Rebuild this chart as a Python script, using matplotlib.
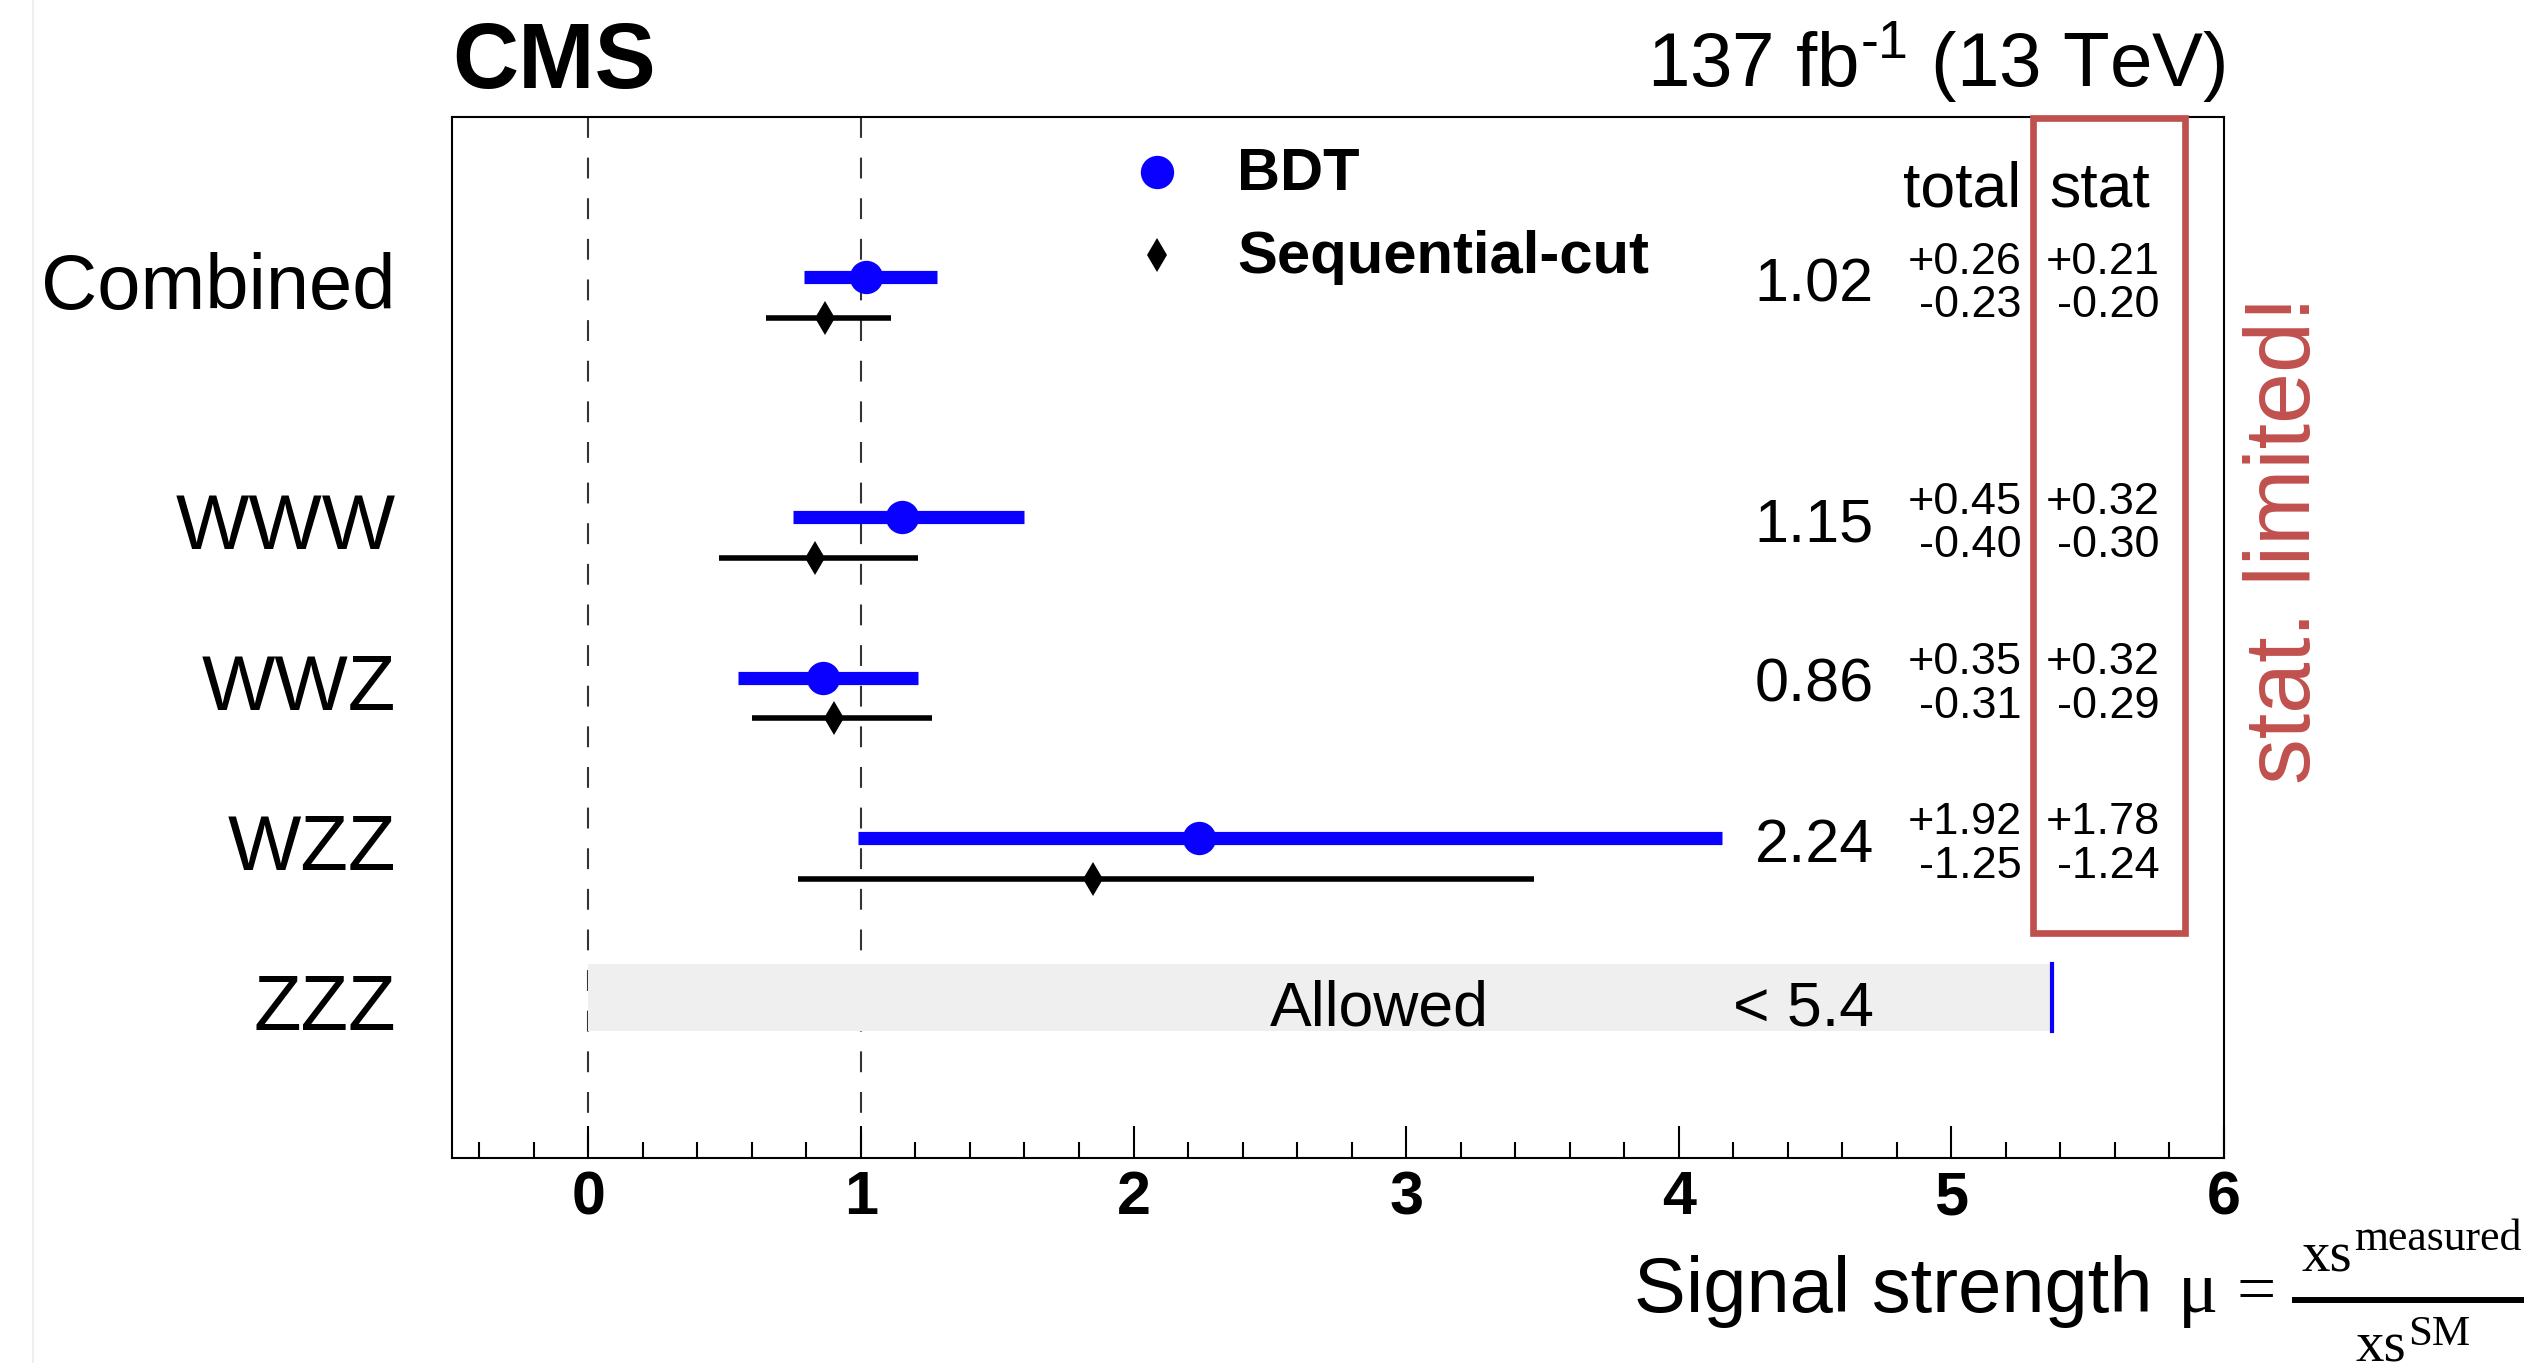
import matplotlib
matplotlib.use('Agg')
import matplotlib.pyplot as plt
from matplotlib.patches import Rectangle
from matplotlib.lines import Line2D
from matplotlib.ticker import MultipleLocator

# valores
categories = ['Combined', 'WWW', 'WWZ', 'WZZ', 'ZZZ']
bdt_mu = [1.02, 1.15, 0.86, 2.24]
bdt_up = [0.26, 0.45, 0.35, 1.92]
bdt_dn = [0.23, 0.40, 0.31, 1.25]
stat_up = [0.21, 0.32, 0.32, 1.78]
stat_dn = [0.20, 0.30, 0.29, 1.24]
seq_mu = [0.87, 0.83, 0.90, 1.85]
seq_lo = [0.65, 0.48, 0.60, 0.77]
seq_hi = [1.11, 1.21, 1.26, 3.47]
zzz_limit = 5.37
zzz_limit_text = '< 5.4'
xticks = [0, 1, 2, 3, 4, 5, 6]

W, H = 2524, 1363
plt.rcParams['font.family'] = ['Liberation Sans', 'DejaVu Sans']
plt.rcParams['mathtext.fontset'] = 'custom'
plt.rcParams['mathtext.rm'] = 'Liberation Sans'
plt.rcParams['mathtext.default'] = 'regular'

blue = '#0a00ff'
red = '#c0504d'
rows = [4.5, 3, 2, 1, 0]
off_seq = 0.255

fig = plt.figure(figsize=(W / 100, H / 100), dpi=100)
ax = fig.add_axes([452 / W, 1 - 1158 / H, (2224 - 452) / W, (1158 - 117) / H])
ax.set_xlim(-0.5, 6)
ax.set_ylim(-1, 5.5)

# lineas de referencia en 0 y 1
for d in [0, 1]:
    ax.plot([d, d], [5.5, -1], color='#333333', lw=1.5, ls=(0, (10, 9.5)), zorder=1)

yb = rows[:4]
ys = [r - off_seq for r in yb]
ax.errorbar(bdt_mu, yb, xerr=[bdt_dn, bdt_up], fmt='o', color=blue, ms=24, mew=0,
            elinewidth=9.5, capsize=0, zorder=4)
seq_err = [[m - lo for m, lo in zip(seq_mu, seq_lo)], [hi - m for m, hi in zip(seq_mu, seq_hi)]]
ax.errorbar(seq_mu, ys, xerr=seq_err, fmt='d', color='black', ms=17, mew=0,
            elinewidth=4, capsize=0, zorder=4)

# ZZZ: solo limite
ax.barh(rows[4], zzz_limit, height=0.42, left=0, color='#efefef', zorder=2)
ax.plot([zzz_limit, zzz_limit], [rows[4] - 0.21, rows[4] + 0.21], color=blue, lw=3, zorder=3)
ax.text(2.9, rows[4] - 0.17, 'Allowed', ha='center', va='baseline', fontsize=45, zorder=3)
ax.text(4.715, rows[4] - 0.17, zzz_limit_text, ha='right', va='baseline', fontsize=45, zorder=3)

# nombres de los procesos
for cat, y in zip(categories, rows):
    ax.text(-0.706, y - 0.2, cat, ha='right', va='baseline', fontsize=56, clip_on=False)

# tabla de valores
ax.text(5.257, 4.94, 'total', ha='right', va='baseline', fontsize=45)
ax.text(5.36, 4.94, 'stat', ha='left', va='baseline', fontsize=45)
for i, y in enumerate(yb):
    ax.text(4.715, y - 0.15, '%.2f' % bdt_mu[i], ha='right', va='baseline', fontsize=44)
    ax.text(5.257, y + 0.02, '+%.2f' % bdt_up[i], ha='right', va='baseline', fontsize=32.5)
    ax.text(5.257, y - 0.25, '-%.2f' % bdt_dn[i], ha='right', va='baseline', fontsize=32.5)
    ax.text(5.765, y + 0.02, '+%.2f' % stat_up[i], ha='right', va='baseline', fontsize=32.5)
    ax.text(5.765, y - 0.25, '-%.2f' % stat_dn[i], ha='right', va='baseline', fontsize=32.5)

# leyenda
ax.plot(2.085, 5.156, 'o', color=blue, ms=24, mew=0)
ax.plot(2.085, 4.637, 'd', color='black', ms=17, mew=0)
ax.text(2.379, 5.044, 'BDT', ha='left', va='baseline', fontsize=43, weight='bold')
ax.text(2.379, 4.525, 'Sequential-cut', ha='left', va='baseline', fontsize=43, weight='bold')

# recuadro rojo
ax.add_patch(Rectangle((5.301, 0.406), 5.857 - 5.301, 5.494 - 0.406, fill=False,
                       ec=red, lw=4.8, clip_on=False, zorder=6))

ax.set_xticks(xticks)
ax.xaxis.set_minor_locator(MultipleLocator(0.2))
ax.tick_params(axis='x', which='major', direction='in', length=23, width=1.5, pad=9, labelsize=44)
ax.tick_params(axis='x', which='minor', direction='in', length=11.5, width=1.5)
ax.set_yticks([])
for lbl in ax.get_xticklabels():
    lbl.set_fontweight('bold')
for s in ax.spines.values():
    s.set_linewidth(1.5)

# textos de la figura
fig.text(452 / W, 1 - 88 / H, 'CMS', fontsize=66, weight='bold', ha='left', va='baseline')
fig.text(2225 / W, 1 - 87 / H, '137 fb$^{\u20101}$ (13 TeV)', fontsize=55, ha='right', va='baseline')
fig.text(2310 / W, 1 - 540 / H, 'stat. limited!', rotation=90, rotation_mode='anchor',
         ha='center', va='baseline', fontsize=66, color=red)

# etiqueta del eje x
fig.text(2152 / W, 1 - 1312 / H, 'Signal strength', fontsize=56, ha='right', va='baseline')
fig.text(2178 / W, 1 - 1312 / H, '\u03bc', fontsize=54, family='Liberation Serif', ha='left', va='baseline')
fig.text(2256 / W, 1 - 1312 / H, '=', fontsize=50, family='Liberation Serif', ha='center', va='baseline')
fig.add_artist(Line2D([2295 / W, 1.0], [1 - 1300 / H, 1 - 1300 / H], color='black', lw=4.3))
fig.text(2302 / W, 1 - 1272 / H, 'xs', fontsize=41, family='Liberation Serif', ha='left', va='baseline')
fig.text(2354 / W, 1 - 1250 / H, 'measured', fontsize=31.5, family='Liberation Serif', ha='left', va='baseline')
fig.text(2355 / W, 1 - 1362 / H, 'xs', fontsize=41, family='Liberation Serif', ha='left', va='baseline')
fig.text(2408 / W, 1 - 1345 / H, 'SM', fontsize=31, family='Liberation Serif', ha='left', va='baseline')

fig.add_artist(Line2D([33 / W, 33 / W], [0, 1], color='#eeeeee', lw=1.5))

fig.savefig('out.png', dpi=100)
